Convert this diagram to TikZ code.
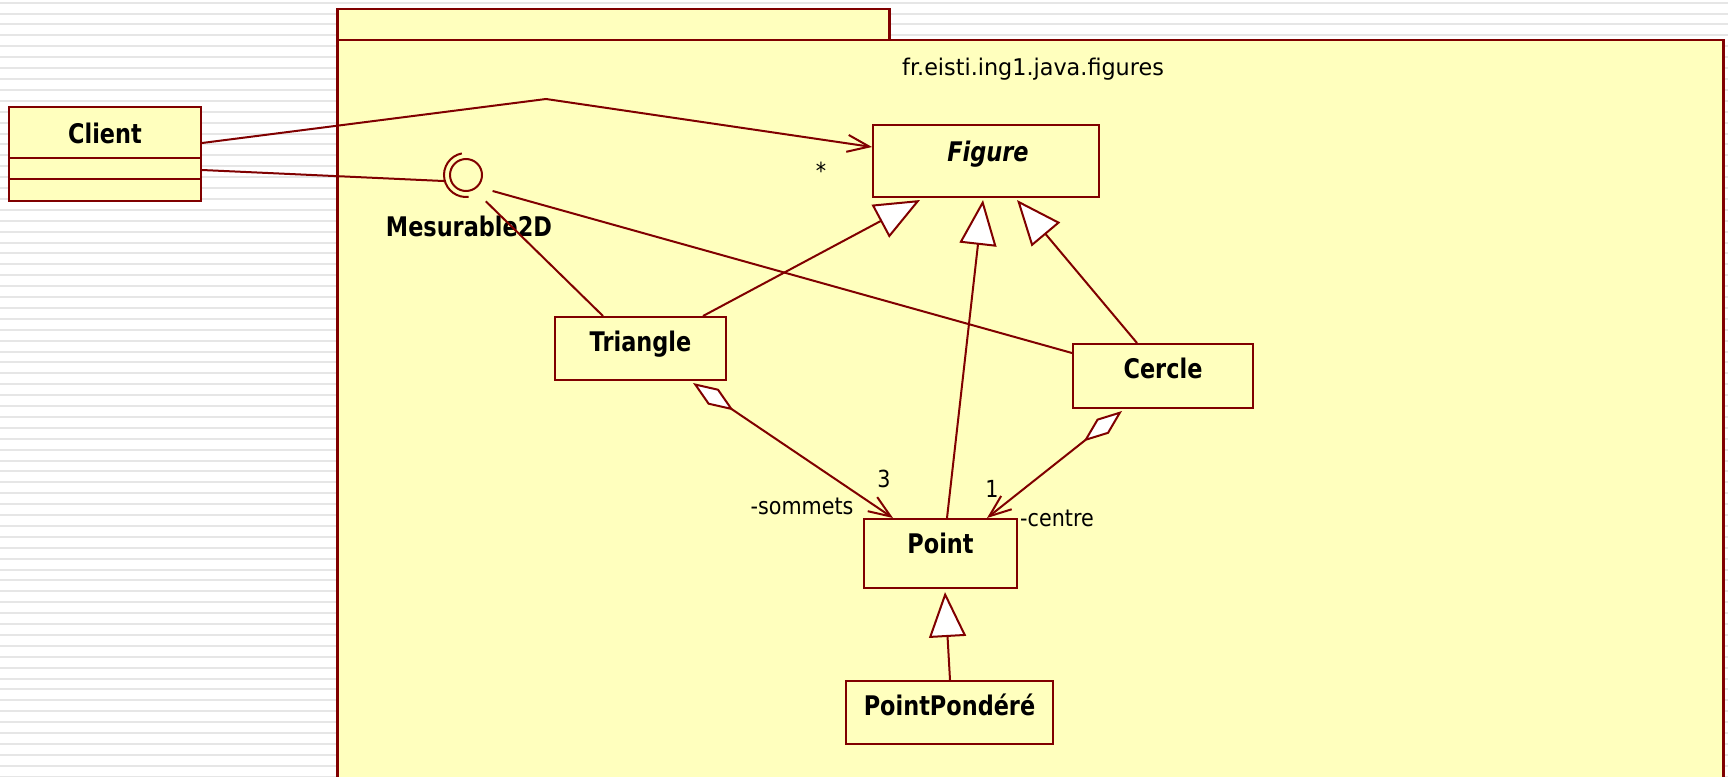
\documentclass[tikz,border=0pt]{standalone}
\usepackage{fontspec}
\setmainfont{DejaVu Sans}
\newfontfamily\clsfont[FakeStretch=0.83]{DejaVu Sans}
\newfontfamily\lblfont[FakeStretch=0.88]{DejaVu Sans}
\newfontfamily\pkgfont[FakeStretch=0.97]{DejaVu Sans}
\usetikzlibrary{arrows.meta}
\definecolor{umlred}{RGB}{128,0,0}
\definecolor{umlfill}{RGB}{255,255,190}
\definecolor{stripecol}{RGB}{230,230,230}
\begin{document}
\begin{tikzpicture}[x=1pt,y=-1pt,
  box/.style={draw=umlred, fill=umlfill, line width=2pt, inner sep=0pt, rectangle},
  pkgbox/.style={draw=umlred, fill=umlfill, line width=2.5pt, inner sep=0pt, rectangle, anchor=north west},
  cname/.style={font=\clsfont\bfseries\fontsize{27}{32}\selectfont, anchor=base, inner sep=0pt},
  lbl/.style={font=\lblfont\fontsize{23.5}{28}\selectfont, anchor=base, inner sep=0pt},
  pkgname/.style={font=\pkgfont\fontsize{23}{28}\selectfont, anchor=base, inner sep=0pt},
  conn/.style={draw=umlred, line width=2pt},
  stripeline/.style={draw=stripecol, line width=2pt},
  assoc/.style={conn, -{Straight Barb[length=22pt,width=17pt]}},
  gen/.style={conn, -{Triangle[length=45pt,width=37pt,fill=white]}},
  agg/.style={conn, {Diamond[length=49pt,width=19pt,fill=white]}-{Straight Barb[length=22pt,width=17pt]}},
]
\useasboundingbox (0,0) rectangle (1728,776);
\clip (0,0) rectangle (1728,776);
\fill[white] (0,0) rectangle (1728,776);
\foreach \i in {0,...,71} {
  \draw[stripeline] (0,{2.7+10.9*\i}) -- (1728,{2.7+10.9*\i});
}
% package
\node[pkgbox, minimum width=552pt, minimum height=31pt] (pkgtab) at (336,8) {};
\node[pkgbox, minimum width=1386pt, minimum height=800pt] (pkg) at (336,39) {};
\node[pkgname] (pkgtitle) at (1033,75) {fr.eisti.ing1.java.figures};
% Client
\node[box, minimum width=192pt, minimum height=94pt] (client) at (105,154) {};
\draw[conn] ([yshift=-52pt]client.north west) -- ([yshift=-52pt]client.north east);
\draw[conn] ([yshift=-73pt]client.north west) -- ([yshift=-73pt]client.north east);
\node[cname] (clientname) at (105,143) {Client};
% classes
\node[box, minimum width=226pt, minimum height=72pt] (figure) at (986,161) {};
\node[cname] (figurename) at (988,161) {\itshape Figure};
\node[box, minimum width=171pt, minimum height=63pt] (triangle) at (640.5,348.5) {};
\node[cname] (trianglename) at (640.5,351) {Triangle};
\node[box, minimum width=180pt, minimum height=64pt] (cercle) at (1163,376) {};
\node[cname] (cerclename) at (1163,378) {Cercle};
\node[box, minimum width=153pt, minimum height=69pt] (point) at (940.5,553.5) {};
\node[cname] (pointname) at (940.5,553) {Point};
\node[box, minimum width=207pt, minimum height=63pt] (pp) at (949.5,712.5) {};
\node[cname] (ppname) at (949.5,715) {PointPondéré};
% interface
\node[draw=umlred, line width=2pt, circle, minimum size=32pt, inner sep=0pt] (ball) at (466,175) {};
\draw[conn] ([shift={(101:22pt)}]ball.center) arc[start angle=101, end angle=277, radius=22pt];
\coordinate (balltri) at ([shift={(-53:33pt)}]ball.center);
\coordinate (ballcer) at ([shift={(-31:31pt)}]ball.center);
\node[cname] (mesname) at (469,236) {Mesurable2D};
% connectors
\coordinate (bend) at (546,99);
\draw[assoc] ([yshift=11pt]client.east) -- (bend) -- ([yshift=14pt]figure.west);
\node[lbl] (star) at (821,179) {*};
\draw[conn] ([yshift=-16pt]client.east) -- ([shift={(196:22pt)}]ball.center);
\draw[conn] ([xshift=-37.5pt]triangle.north) -- (balltri);
\draw[conn] ([yshift=23pt]cercle.west) -- (ballcer);
\draw[gen] ([xshift=62.5pt]triangle.north) -- ([xshift=-66pt,yshift=-2pt]figure.south);
\draw[gen] ([xshift=6.5pt]point.north) -- ([xshift=-3pt,yshift=-2pt]figure.south);
\draw[gen] ([xshift=-26pt]cercle.north) -- ([xshift=31pt,yshift=-2pt]figure.south);
\draw[gen] ([xshift=0.5pt]pp.north) -- ([xshift=4.5pt,yshift=-3pt]point.south);
\draw[agg] ([xshift=52.5pt,yshift=-2pt]triangle.south) -- ([xshift=-47.5pt]point.north);
\draw[agg] ([xshift=-41pt,yshift=-2pt]cercle.south) -- ([xshift=46.5pt]point.north);
\node[lbl] (three) at (884,487) {3};
\node[lbl] (one) at (992,497) {1};
\node[lbl] (sommets) at (802,514) {-sommets};
\node[lbl] (centre) at (1057,526) {-centre};
\end{tikzpicture}
\end{document}
